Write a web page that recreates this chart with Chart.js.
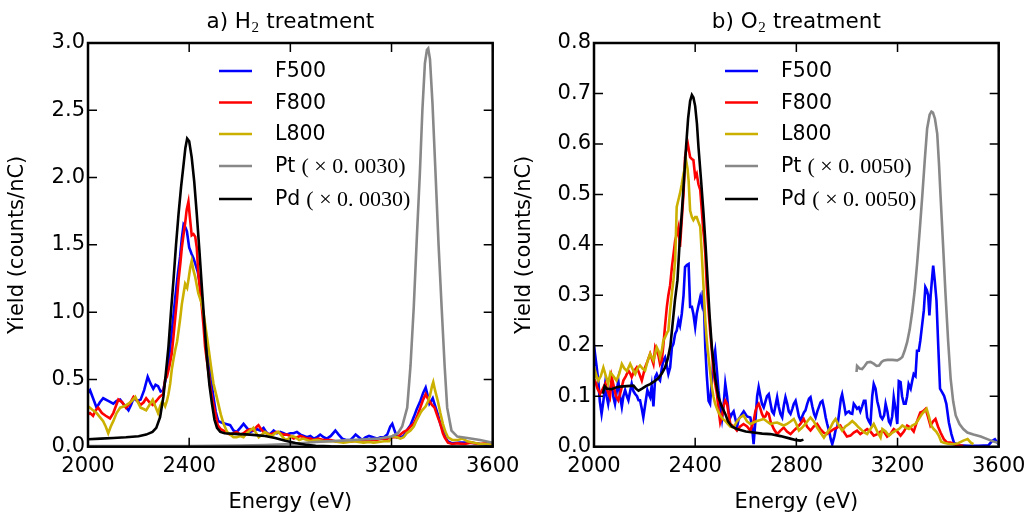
<!DOCTYPE html>
<html>
<head>
<meta charset="utf-8">
<script src="https://cdn.jsdelivr.net/npm/chart.js@4.4.1/dist/chart.umd.min.js"></script>
<style>
  body { margin: 0; background: #fff; }
  #wrap { position: relative; width: 1027px; height: 513px; overflow: hidden; }
  canvas { position: absolute; top: 0; }
</style>
</head>
<body>
<div id="wrap">
  <canvas id="left" width="540" height="513" style="left:0"></canvas>
  <canvas id="right" width="520" height="513" style="left:507px"></canvas>
</div>
<script>
// tick values
const xTicks = [2000, 2400, 2800, 3200, 3600];
const h2YTicks = [0, 0.5, 1.0, 1.5, 2.0, 2.5, 3.0];
const o2YTicks = [0, 0.1, 0.2, 0.3, 0.4, 0.5, 0.6, 0.7, 0.8];

const seriesNames = ['F500', 'F800', 'L800', 'Pt', 'Pd'];
const seriesColors = ['#0000ff', '#ff0000', '#ccb000', '#888888', '#000000'];
const h2Factor = '0.0030';
const o2Factor = '0.0050';

// ---- a) H2 treatment ----
const h2F500E = [2000,2008,2020,2034,2047,2060,2080,2100,2113,2127,2143,2160,2170,2180,2195,2208,2222,2236,2247,2258,2267,2277,2287,2297,2307,2318,2331,2345,2355,2364,2371,2378,2385,2391,2400,2410,2417,2424,2434,2444,2457,2466,2476,2486,2496,2505,2515,2528,2543,2562,2575,2588,2602,2615,2628,2641,2655,2668,2681,2694,2704,2714,2724,2734,2747,2760,2773,2786,2800,2813,2826,2840,2853,2866,2879,2892,2905,2918,2932,2945,2960,2978,2991,3005,3020,3038,3048,3058,3071,3084,3097,3111,3127,3144,3156,3170,3183,3195,3203,3212,3222,3235,3248,3260,3275,3288,3300,3314,3325,3335,3343,3350,3357,3363,3373,3383,3393,3403,3413,3423,3440,3470,3514,3550,3575,3600];
const h2F500Y = [0.40,0.42,0.36,0.29,0.33,0.36,0.34,0.32,0.34,0.35,0.31,0.27,0.31,0.36,0.34,0.35,0.42,0.52,0.47,0.43,0.46,0.45,0.41,0.42,0.50,0.62,0.85,1.11,1.28,1.41,1.55,1.65,1.63,1.60,1.48,1.43,1.40,1.36,1.30,1.19,0.96,0.80,0.66,0.50,0.37,0.26,0.19,0.18,0.17,0.16,0.12,0.11,0.14,0.17,0.14,0.11,0.12,0.13,0.12,0.14,0.11,0.09,0.10,0.12,0.10,0.11,0.10,0.09,0.10,0.10,0.11,0.09,0.08,0.07,0.08,0.06,0.07,0.09,0.07,0.06,0.08,0.12,0.09,0.06,0.05,0.05,0.07,0.09,0.07,0.05,0.07,0.08,0.07,0.06,0.07,0.07,0.09,0.15,0.17,0.12,0.07,0.07,0.08,0.12,0.16,0.22,0.28,0.34,0.40,0.44,0.38,0.32,0.34,0.36,0.30,0.24,0.17,0.12,0.07,0.04,0.025,0.03,0.03,0.02,0.015,0.01];

const h2F800E = [2000,2008,2020,2030,2040,2055,2070,2087,2100,2110,2120,2135,2150,2165,2180,2195,2208,2220,2230,2243,2256,2270,2283,2290,2297,2305,2312,2322,2331,2338,2345,2352,2358,2365,2371,2378,2384,2390,2397,2403,2410,2417,2424,2430,2436,2443,2450,2457,2463,2473,2483,2493,2503,2513,2525,2536,2550,2562,2575,2588,2602,2615,2628,2641,2654,2668,2674,2684,2694,2707,2720,2734,2747,2760,2773,2786,2800,2813,2826,2840,2853,2866,2880,2892,2910,2930,2945,2960,2978,3000,3020,3040,3060,3080,3100,3120,3140,3160,3183,3203,3222,3235,3248,3260,3275,3288,3300,3314,3325,3335,3343,3350,3360,3370,3383,3393,3403,3410,3423,3440,3460,3490,3514,3545,3575,3600];
const h2F800Y = [0.24,0.25,0.23,0.27,0.29,0.25,0.23,0.21,0.25,0.30,0.35,0.33,0.29,0.32,0.37,0.34,0.31,0.33,0.36,0.33,0.31,0.34,0.37,0.38,0.39,0.50,0.52,0.60,0.69,0.82,0.96,1.10,1.24,1.36,1.48,1.58,1.66,1.76,1.82,1.70,1.57,1.58,1.56,1.48,1.29,1.16,1.04,0.89,0.74,0.60,0.45,0.34,0.25,0.16,0.13,0.12,0.10,0.09,0.10,0.11,0.09,0.10,0.12,0.13,0.12,0.15,0.16,0.13,0.11,0.10,0.09,0.10,0.11,0.10,0.09,0.09,0.08,0.06,0.07,0.08,0.07,0.06,0.06,0.05,0.06,0.05,0.05,0.05,0.04,0.04,0.045,0.04,0.045,0.045,0.05,0.05,0.05,0.06,0.06,0.07,0.07,0.09,0.11,0.12,0.15,0.17,0.22,0.29,0.35,0.39,0.36,0.34,0.31,0.29,0.22,0.17,0.10,0.07,0.03,0.02,0.025,0.02,0.03,0.02,0.025,0.02];

const h2L800E = [2000,2008,2020,2034,2047,2060,2070,2080,2090,2100,2113,2127,2143,2160,2173,2187,2197,2208,2220,2230,2243,2256,2266,2277,2285,2292,2300,2305,2312,2318,2325,2331,2338,2345,2352,2358,2365,2371,2378,2384,2392,2398,2404,2410,2417,2424,2430,2436,2443,2450,2457,2463,2470,2476,2486,2496,2505,2515,2525,2536,2550,2562,2575,2588,2602,2615,2628,2641,2654,2662,2675,2688,2700,2713,2727,2740,2753,2766,2780,2793,2806,2820,2835,2850,2866,2880,2895,2910,2930,2950,2970,2990,3010,3030,3050,3070,3090,3110,3130,3150,3170,3190,3205,3222,3235,3248,3260,3275,3288,3300,3314,3321,3335,3345,3352,3360,3365,3372,3383,3393,3403,3413,3423,3440,3463,3480,3500,3525,3550,3575,3600];
const h2L800Y = [0.30,0.29,0.27,0.25,0.22,0.19,0.15,0.10,0.15,0.19,0.25,0.29,0.30,0.32,0.34,0.37,0.33,0.29,0.28,0.27,0.31,0.35,0.30,0.25,0.30,0.33,0.32,0.30,0.34,0.39,0.47,0.57,0.65,0.72,0.78,0.86,0.96,1.06,1.14,1.21,1.18,1.25,1.33,1.38,1.31,1.26,1.20,1.14,1.10,1.06,0.99,0.91,0.82,0.74,0.60,0.47,0.40,0.32,0.24,0.17,0.11,0.09,0.07,0.07,0.08,0.07,0.10,0.12,0.14,0.11,0.07,0.09,0.11,0.09,0.08,0.10,0.11,0.08,0.05,0.06,0.08,0.07,0.05,0.06,0.05,0.04,0.05,0.05,0.04,0.04,0.04,0.035,0.03,0.035,0.04,0.035,0.03,0.035,0.03,0.035,0.04,0.04,0.08,0.07,0.06,0.07,0.10,0.12,0.15,0.20,0.25,0.27,0.30,0.34,0.38,0.45,0.48,0.42,0.34,0.25,0.17,0.11,0.07,0.05,0.05,0.06,0.04,0.03,0.02,0.02,0.015];

const h2PtE = [2000,2400,2600,2700,2800,2900,3000,3100,3150,3200,3225,3242,3262,3275,3288,3300,3312,3322,3332,3340,3345,3352,3362,3374,3386,3398,3410,3420,3437,3460,3500,3550,3600];
const h2PtY = [0.005,0.005,0.008,0.012,0.02,0.035,0.045,0.055,0.06,0.075,0.10,0.15,0.29,0.60,1.04,1.55,2.03,2.50,2.85,2.95,2.96,2.88,2.55,2.03,1.50,1.04,0.60,0.29,0.12,0.075,0.065,0.05,0.03];

const h2PdE = [2000,2050,2100,2150,2200,2230,2255,2270,2285,2298,2308,2318,2328,2338,2348,2358,2368,2378,2385,2392,2400,2410,2420,2430,2440,2450,2460,2470,2480,2490,2500,2510,2523,2540,2580,2640,2700,2740,2780,2820,2860,2900,2960,3100,3600];
const h2PdY = [0.055,0.06,0.065,0.07,0.078,0.09,0.11,0.14,0.22,0.37,0.55,0.74,1.00,1.24,1.50,1.73,1.93,2.10,2.22,2.29,2.27,2.15,1.97,1.73,1.47,1.19,0.92,0.66,0.46,0.32,0.20,0.14,0.11,0.10,0.095,0.09,0.08,0.065,0.045,0.028,0.015,0.007,0.003,0.001,0];

// ---- b) O2 treatment ----
const o2F500E = [2000,2004,2010,2017,2023,2030,2037,2044,2050,2056,2063,2070,2076,2083,2090,2096,2103,2110,2116,2123,2130,2136,2143,2149,2156,2162,2170,2176,2182,2189,2195,2203,2211,2216,2222,2228,2235,2242,2248,2255,2261,2268,2274,2281,2288,2294,2301,2308,2314,2321,2327,2334,2340,2347,2354,2360,2367,2374,2380,2387,2393,2400,2406,2413,2420,2426,2431,2436,2440,2446,2453,2459,2466,2472,2479,2486,2492,2499,2506,2512,2519,2526,2532,2539,2545,2552,2559,2566,2572,2579,2585,2592,2605,2618,2625,2631,2638,2645,2651,2658,2664,2671,2678,2684,2691,2698,2704,2711,2717,2724,2730,2737,2744,2750,2757,2764,2770,2777,2784,2790,2797,2804,2810,2817,2823,2830,2836,2843,2850,2856,2863,2870,2876,2883,2890,2896,2903,2910,2916,2922,2930,2936,2942,2950,2956,2962,2970,2976,2981,2988,2995,3001,3008,3014,3021,3027,3034,3040,3047,3053,3060,3067,3073,3080,3087,3093,3100,3106,3113,3120,3126,3133,3140,3147,3153,3160,3166,3172,3179,3185,3192,3199,3205,3212,3218,3225,3232,3238,3244,3252,3258,3264,3271,3277,3284,3290,3297,3304,3310,3316,3321,3326,3331,3336,3341,3347,3354,3361,3368,3376,3384,3393,3403,3413,3423,3440,3480,3520,3560,3575,3585,3595,3600];
const o2F500Y = [0.16,0.184,0.16,0.131,0.09,0.065,0.09,0.123,0.10,0.085,0.11,0.129,0.10,0.085,0.11,0.131,0.10,0.079,0.10,0.112,0.10,0.092,0.11,0.125,0.11,0.105,0.10,0.092,0.092,0.075,0.058,0.085,0.112,0.105,0.098,0.12,0.08,0.138,0.144,0.135,0.131,0.155,0.171,0.177,0.16,0.144,0.157,0.197,0.204,0.224,0.23,0.25,0.24,0.263,0.30,0.356,0.36,0.362,0.277,0.277,0.263,0.237,0.263,0.28,0.296,0.283,0.31,0.26,0.197,0.14,0.091,0.085,0.131,0.17,0.19,0.15,0.112,0.08,0.055,0.08,0.125,0.10,0.07,0.058,0.065,0.07,0.055,0.04,0.055,0.06,0.065,0.07,0.06,0.058,0.04,0.005,0.05,0.10,0.118,0.10,0.085,0.078,0.09,0.10,0.104,0.085,0.07,0.065,0.08,0.098,0.08,0.065,0.058,0.08,0.098,0.085,0.07,0.065,0.075,0.085,0.091,0.075,0.06,0.052,0.06,0.068,0.072,0.085,0.095,0.098,0.08,0.065,0.058,0.07,0.08,0.088,0.091,0.075,0.058,0.045,0.03,0.015,0.005,0.02,0.035,0.039,0.07,0.095,0.104,0.085,0.065,0.068,0.07,0.066,0.065,0.085,0.08,0.075,0.078,0.07,0.08,0.091,0.091,0.058,0.05,0.045,0.10,0.124,0.115,0.09,0.078,0.06,0.055,0.062,0.085,0.07,0.05,0.045,0.06,0.098,0.075,0.045,0.13,0.128,0.10,0.085,0.085,0.10,0.124,0.115,0.13,0.144,0.14,0.19,0.19,0.21,0.24,0.27,0.316,0.31,0.30,0.26,0.30,0.33,0.359,0.33,0.29,0.20,0.115,0.108,0.101,0.085,0.048,0.025,0.008,0.003,0.002,0.002,0.003,0.012,0.015,0.008,0.005];

const o2F800E = [2000,2004,2014,2024,2035,2045,2054,2063,2070,2078,2087,2096,2106,2116,2126,2136,2143,2149,2159,2169,2179,2189,2196,2202,2212,2222,2228,2235,2242,2248,2255,2261,2268,2274,2281,2288,2294,2301,2308,2314,2321,2327,2334,2340,2347,2354,2360,2365,2371,2376,2380,2387,2393,2400,2406,2413,2420,2426,2431,2436,2440,2446,2453,2459,2466,2472,2479,2486,2492,2499,2506,2512,2519,2526,2532,2539,2552,2565,2578,2591,2605,2618,2631,2638,2644,2651,2658,2664,2671,2678,2684,2691,2698,2711,2724,2737,2750,2763,2777,2790,2803,2816,2829,2842,2856,2869,2882,2895,2908,2921,2935,2948,2961,2974,2987,3000,3014,3027,3040,3053,3067,3080,3093,3106,3120,3133,3146,3159,3172,3185,3199,3212,3225,3238,3251,3264,3277,3290,3300,3311,3320,3330,3340,3350,3360,3370,3383,3396,3410,3423,3440,3460];
const o2F800Y = [0.13,0.131,0.115,0.105,0.115,0.125,0.11,0.098,0.138,0.12,0.10,0.092,0.11,0.131,0.14,0.151,0.145,0.138,0.15,0.157,0.145,0.131,0.145,0.157,0.17,0.184,0.175,0.164,0.197,0.19,0.18,0.164,0.171,0.20,0.24,0.277,0.30,0.32,0.356,0.38,0.409,0.42,0.435,0.396,0.45,0.502,0.574,0.59,0.60,0.585,0.574,0.57,0.568,0.535,0.541,0.52,0.509,0.47,0.435,0.41,0.383,0.317,0.27,0.23,0.19,0.151,0.125,0.105,0.075,0.048,0.06,0.08,0.091,0.085,0.065,0.045,0.04,0.032,0.04,0.045,0.04,0.032,0.05,0.07,0.08,0.085,0.075,0.065,0.058,0.06,0.068,0.065,0.05,0.035,0.025,0.032,0.038,0.03,0.025,0.032,0.038,0.045,0.055,0.04,0.032,0.04,0.045,0.035,0.028,0.025,0.03,0.035,0.038,0.042,0.03,0.02,0.022,0.028,0.032,0.025,0.03,0.035,0.03,0.022,0.025,0.03,0.03,0.02,0.025,0.035,0.03,0.022,0.03,0.042,0.038,0.03,0.05,0.068,0.07,0.075,0.06,0.042,0.05,0.055,0.04,0.028,0.015,0.008,0.008,0.005,0.003,0.002];

const o2L800E = [2000,2004,2010,2017,2027,2037,2047,2056,2065,2076,2089,2100,2110,2120,2130,2143,2156,2163,2172,2182,2192,2202,2212,2222,2228,2235,2242,2248,2255,2261,2268,2274,2281,2288,2294,2301,2307,2314,2321,2327,2334,2340,2347,2354,2360,2365,2370,2374,2380,2387,2393,2400,2406,2413,2420,2426,2433,2440,2446,2453,2460,2466,2472,2479,2489,2499,2509,2519,2529,2539,2552,2565,2578,2591,2605,2618,2631,2644,2658,2671,2684,2698,2711,2724,2737,2750,2763,2777,2790,2800,2810,2823,2836,2846,2856,2869,2882,2895,2909,2922,2935,2945,2955,2968,2981,2994,3008,3021,3034,3047,3060,3070,3080,3093,3106,3120,3133,3140,3153,3166,3180,3193,3206,3219,3232,3245,3258,3271,3284,3297,3306,3315,3324,3333,3343,3353,3363,3373,3383,3400,3420,3440,3460,3477,3490,3500];
const o2L800Y = [0.13,0.151,0.14,0.131,0.14,0.157,0.14,0.125,0.147,0.14,0.131,0.145,0.164,0.155,0.15,0.164,0.15,0.144,0.155,0.161,0.155,0.151,0.17,0.184,0.178,0.171,0.185,0.197,0.19,0.177,0.19,0.21,0.217,0.225,0.23,0.27,0.30,0.33,0.37,0.475,0.49,0.502,0.52,0.541,0.555,0.565,0.55,0.528,0.468,0.455,0.449,0.455,0.455,0.445,0.436,0.383,0.317,0.25,0.21,0.177,0.145,0.118,0.10,0.085,0.072,0.062,0.055,0.051,0.045,0.04,0.038,0.05,0.058,0.062,0.05,0.045,0.048,0.051,0.053,0.055,0.05,0.045,0.047,0.048,0.045,0.042,0.045,0.05,0.055,0.045,0.032,0.038,0.045,0.052,0.058,0.05,0.038,0.028,0.018,0.028,0.038,0.048,0.055,0.042,0.032,0.04,0.045,0.051,0.045,0.038,0.032,0.028,0.025,0.035,0.045,0.03,0.018,0.035,0.03,0.022,0.028,0.032,0.035,0.042,0.038,0.035,0.042,0.045,0.055,0.065,0.07,0.075,0.06,0.042,0.035,0.03,0.022,0.01,0.008,0.006,0.005,0.007,0.012,0.015,0.008,0.005];

const o2PtE = [3038,3040,3050,3060,3070,3080,3093,3107,3117,3127,3137,3146,3160,3180,3199,3210,3219,3228,3238,3248,3258,3268,3278,3288,3298,3308,3317,3327,3334,3340,3348,3357,3364,3370,3380,3390,3400,3410,3420,3430,3445,3460,3476,3500,3529,3560,3582,3600];
const o2PtY = [0.148,0.16,0.155,0.154,0.16,0.167,0.168,0.164,0.16,0.161,0.168,0.171,0.172,0.172,0.171,0.174,0.178,0.19,0.207,0.232,0.267,0.31,0.366,0.43,0.498,0.57,0.63,0.658,0.664,0.662,0.65,0.62,0.56,0.498,0.40,0.30,0.21,0.135,0.09,0.062,0.045,0.035,0.028,0.024,0.02,0.014,0.01,0.008];

const o2PdE = [2035,2042,2050,2070,2090,2103,2130,2156,2166,2176,2190,2205,2222,2240,2255,2268,2281,2292,2302,2310,2320,2330,2338,2347,2356,2364,2372,2380,2387,2393,2400,2407,2413,2423,2433,2441,2449,2457,2466,2478,2492,2505,2519,2530,2545,2565,2600,2631,2665,2697,2737,2776,2800,2816,2828];
const o2PdY = [0.105,0.12,0.115,0.114,0.118,0.119,0.12,0.121,0.115,0.111,0.115,0.12,0.124,0.13,0.136,0.145,0.157,0.175,0.20,0.24,0.29,0.33,0.40,0.462,0.53,0.594,0.65,0.685,0.697,0.692,0.675,0.64,0.594,0.53,0.462,0.40,0.33,0.26,0.197,0.14,0.098,0.08,0.065,0.05,0.04,0.035,0.03,0.028,0.026,0.025,0.021,0.016,0.013,0.012,0.014];

function pts(E, Y) {
  return E.map((e, i) => ({ x: e, y: Y[i] }));
}

function makeDatasets(list, factor) {
  // list in legend order; reversed so Pd ends up drawn on top
  const ds = list.map((d, i) => ({
    label: seriesNames[i] + (i >= 3 ? ' (×' + factor + ')' : ''),
    data: pts(d[0], d[1]),
    borderColor: seriesColors[i],
    borderWidth: 2.6,
    pointRadius: 0,
    tension: 0,
    fill: false
  }));
  return ds.reverse();
}

const sans = '"DejaVu Sans", sans-serif';
const serif = '"Liberation Serif", "DejaVu Serif", serif';

const decor = {
  id: 'decor',
  afterDatasetsDraw(chart, args, opts) {
    const { ctx, chartArea: a, scales: { x, y } } = chart;
    ctx.save();
    ctx.strokeStyle = '#000';
    ctx.lineWidth = 1.5;
    ctx.beginPath();
    x.ticks.forEach(t => {
      const px = x.getPixelForValue(t.value);
      ctx.moveTo(px, a.bottom); ctx.lineTo(px, a.bottom - 9);
      ctx.moveTo(px, a.top); ctx.lineTo(px, a.top + 9);
    });
    y.ticks.forEach(t => {
      const py = y.getPixelForValue(t.value);
      ctx.moveTo(a.left, py); ctx.lineTo(a.left + 9, py);
      ctx.moveTo(a.right, py); ctx.lineTo(a.right - 9, py);
    });
    ctx.stroke();
    ctx.lineWidth = 2.5;
    ctx.strokeRect(a.left, a.top, a.right - a.left, a.bottom - a.top);

    // title with subscript
    const cx = (a.left + a.right) / 2;
    ctx.fillStyle = '#000';
    ctx.textBaseline = 'alphabetic';
    ctx.textAlign = 'left';
    const t = opts.title;
    ctx.font = '21.5px ' + sans;
    const w0 = ctx.measureText(t[0]).width;
    const w2 = ctx.measureText(t[2]).width;
    ctx.font = '15px ' + serif;
    const w1 = ctx.measureText(t[1]).width + 1;
    let tx = cx - (w0 + w1 + w2) / 2;
    ctx.font = '21.5px ' + sans;
    ctx.fillText(t[0], tx, 28);
    ctx.font = '15px ' + serif;
    ctx.fillText(t[1], tx + w0 + 0.5, 31.5);
    ctx.font = '21.5px ' + sans;
    ctx.fillText(t[2], tx + w0 + w1, 28);

    // legend inside the axes, in legend order
    const ds = chart.data.datasets.slice().reverse();
    const rows = [28, 59.5, 91, 123, 156];
    ds.forEach((d, i) => {
      const ly = a.top + rows[i];
      ctx.strokeStyle = d.borderColor;
      ctx.lineWidth = 2.6;
      ctx.beginPath();
      ctx.moveTo(a.left + 131, ly);
      ctx.lineTo(a.left + 164, ly);
      ctx.stroke();
      const parts = d.label.split(' (');
      ctx.fillStyle = '#000';
      ctx.textBaseline = 'middle';
      ctx.font = '20.5px ' + sans;
      ctx.fillText(parts[0], a.left + 187, ly + 1);
      if (parts.length > 1) {
        const nw = ctx.measureText(parts[0]).width;
        const math = '(' + parts[1].replace('×', ' × ').replace('.', '. ');
        ctx.font = '22px ' + serif;
        ctx.fillText(math, a.left + 187 + nw + 6, ly + 1);
      }
    });
    ctx.restore();
  }
};

function makeChart(id, datasets, yMax, title, yWidth, padRight) {
  return new Chart(document.getElementById(id), {
    type: 'line',
    data: { datasets },
    options: {
      responsive: false,
      animation: false,
      events: [],
      layout: { padding: { left: 0, top: 43, right: padRight, bottom: 0 } },
      plugins: {
        legend: { display: false },
        tooltip: { enabled: false },
        decor: { title }
      },
      scales: {
        x: {
          type: 'linear',
          min: 2000, max: 3600,
          afterBuildTicks: s => { s.ticks = xTicks.map(v => ({ value: v })); },
          afterFit: s => { s.height = 66.3; s.paddingLeft = 0; s.paddingRight = 0; },
          grid: { display: false, drawTicks: false },
          border: { display: false },
          ticks: { color: '#000', padding: 7, maxRotation: 0, callback: v => String(v), font: { family: sans, size: 21 } },
          title: { display: true, text: 'Energy (eV)', color: '#000', padding: { top: 0, bottom: 0 }, font: { family: sans, size: 21, lineHeight: 1.0 } }
        },
        y: {
          min: 0, max: yMax,
          afterBuildTicks: s => {
            s.ticks = (yMax > 1 ? h2YTicks : o2YTicks).map(v => ({ value: v }));
          },
          afterFit: s => { s.width = yWidth; s.paddingTop = 0; s.paddingBottom = 0; },
          grid: { display: false, drawTicks: false },
          border: { display: false },
          ticks: { color: '#000', padding: 3, callback: v => v.toFixed(1), font: { family: sans, size: 21 } },
          title: { display: true, text: 'Yield (counts/nC)', color: '#000', padding: { top: 5.4, bottom: 0 }, font: { family: sans, size: 21 } }
        }
      }
    },
    plugins: [decor]
  });
}

makeChart('left', makeDatasets([
  [h2F500E, h2F500Y], [h2F800E, h2F800Y], [h2L800E, h2L800Y], [h2PtE, h2PtY], [h2PdE, h2PdY]
], h2Factor), 3.0, ['a) H', '2', ' treatment'], 88, 540 - 492.7);

makeChart('right', makeDatasets([
  [o2F500E, o2F500Y], [o2F800E, o2F800Y], [o2L800E, o2L800Y], [o2PtE, o2PtY], [o2PdE, o2PdY]
], o2Factor), 0.8, ['b) O', '2', ' treatment'], 87, 520 - 491.7);
</script>
</body>
</html>
